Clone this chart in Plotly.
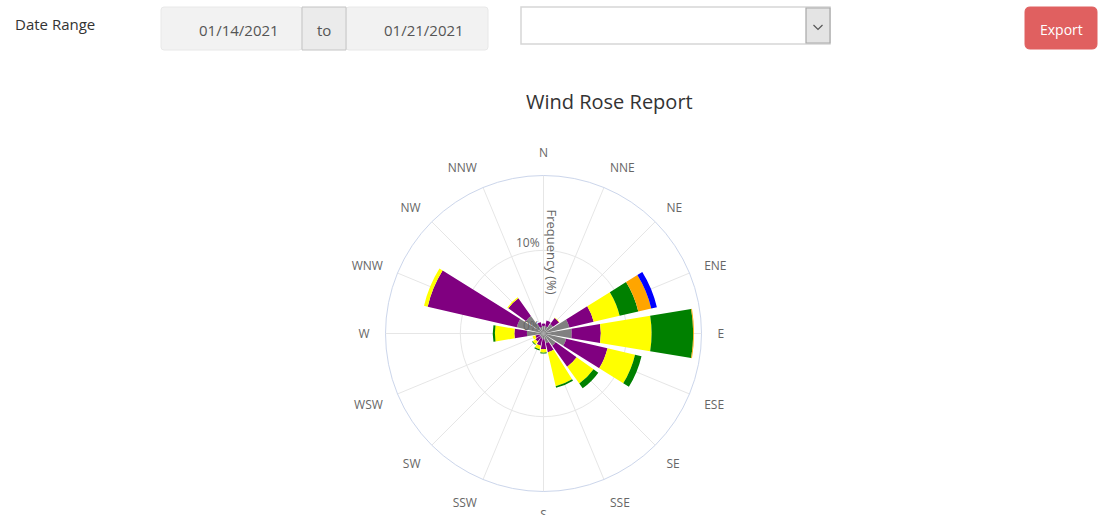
import plotly.graph_objects as go

W, H = 1102, 515

# ---------------- data ----------------
directions = ["N", "NNE", "NE", "ENE", "E", "ESE", "SE", "SSE",
              "S", "SSW", "SW", "WSW", "W", "WNW", "NW", "NNW"]
series_names = ["< 0.5 m/s", "0.5-2 m/s", "2-4 m/s", "4-6 m/s", "6-8 m/s", "> 8 m/s"]
series_colors = ["#808080", "#800080", "#ffff00", "#008000", "#ffa500", "#0000ff"]
gray_vals   = [0.9, 0.9, 1.4, 3.2, 3.4, 2.8, 1.8, 1.2, 0.7, 0.6, 0.5, 0.5, 2.0, 3.3, 2.6, 0.8]
purple_vals = [0.3, 0.7, 0.9, 3.0, 3.5, 5.1, 3.1, 1.1, 1.2, 0.9, 0.7, 0.5, 1.5, 11.0, 2.6, 0.6]
yellow_vals = [0.0, 0.0, 0.05, 3.2, 6.1, 3.4, 2.5, 4.2, 0.4, 0.45, 0.4, 0.35, 2.35, 0.45, 0.15, 0.0]
green_vals  = [0.0, 0.0, 0.0, 2.3, 5.0, 0.8, 0.7, 0.2, 0.1, 0.15, 0.1, 0.0, 0.25, 0.0, 0.0, 0.0]
orange_vals = [0.0, 0.0, 0.0, 1.6, 0.1, 0.0, 0.0, 0.0, 0.0, 0.0, 0.0, 0.0, 0.0, 0.0, 0.0, 0.0]
blue_vals   = [0.0, 0.0, 0.0, 0.7, 0.0, 0.0, 0.0, 0.0, 0.0, 0.0, 0.0, 0.0, 0.0, 0.0, 0.0, 0.0]
all_series = [gray_vals, purple_vals, yellow_vals, green_vals, orange_vals, blue_vals]

radial_ticks = [0, 10]
radial_ticktext = ["0%", "10%"]
radial_max = 19

title_text = "Wind Rose Report"
axis_title = "Frequency (%)"
date_from, date_to = "01/14/2021", "01/21/2021"

FONT = "Open Sans"

# ---------------- helpers (pixel -> paper) ----------------
def px(x):
    return x / W

def py(y):
    return 1 - y / H

def rrect(x0, y0, x1, y1, r, fill, line, lw=1):
    a, b, c, d = px(x0), px(x1), py(y0), py(y1)
    rx, ry = r / W, r / H
    path = (f"M {a+rx},{c} L {b-rx},{c} Q {b},{c} {b},{c-ry} "
            f"L {b},{d+ry} Q {b},{d} {b-rx},{d} L {a+rx},{d} Q {a},{d} {a},{d+ry} "
            f"L {a},{c-ry} Q {a},{c} {a+rx},{c} Z")
    return dict(type="path", xref="paper", yref="paper", path=path,
                fillcolor=fill, line=dict(color=line, width=lw), layer="below")

def rect(x0, y0, x1, y1, fill, line, lw=1):
    return dict(type="rect", xref="paper", yref="paper",
                x0=px(x0), x1=px(x1), y0=py(y1), y1=py(y0),
                fillcolor=fill, line=dict(color=line, width=lw), layer="below")

def label(x, y, text, size=14, color="#333333", xanchor="center", angle=0):
    return dict(x=px(x), y=py(y), xref="paper", yref="paper", text=text,
                showarrow=False, xanchor=xanchor, yanchor="middle", textangle=angle,
                font=dict(family=FONT, size=size, color=color))

# ---------------- figure ----------------
fig = go.Figure()
for name, color, vals in zip(series_names, series_colors, all_series):
    fig.add_trace(go.Barpolar(
        r=vals, theta=directions, name=name, width=0.84,
        marker=dict(color=color, line=dict(width=0)),
        hoverinfo="skip",
    ))

cx, cy, R = 543.5, 333.5, 158
tick_px = [cy - R * t / radial_max for t in radial_ticks]

shapes = [
    rrect(161, 7, 302, 50, 3, "#f2f2f2", "#e8e8e8"),
    rrect(346, 7, 488, 50, 3, "#f2f2f2", "#e8e8e8"),
    rect(302, 7, 346, 50, "#ebebeb", "#c4c4c4"),
    rect(521, 7, 830, 44, "#ffffff", "#d6d6d6", 1.5),
    rect(806, 8, 830, 43, "#e4e4e4", "#a8a8a8", 1.2),
    dict(type="path", xref="paper", yref="paper",
         path=f"M {px(813.5)},{py(25)} L {px(818)},{py(29.5)} L {px(822.5)},{py(25)}",
         line=dict(color="#555555", width=1.2)),
    rrect(1025, 7, 1097, 49, 5, "#e06060", "#e06060"),
]

annotations = [
    label(13, 24, "Date Range", 15, "#333333", "left"),
    label(238.5, 30, date_from, 15, "#555555"),
    label(324, 30, "to", 15, "#555555"),
    label(424, 30, date_to, 15, "#555555"),
    label(1061, 29, "Export", 14, "#ffffff"),
    label(609.5, 101, title_text, 20, "#333333"),
    label(551.5, 252, axis_title, 13, "#666666", "center", 90),
]
for t_px, t_txt in zip(tick_px, radial_ticktext):
    annotations.append(label(542, t_px - 8, t_txt, 12, "#666666", "right"))

fig.update_layout(
    width=W, height=H,
    margin=dict(l=0, r=0, t=0, b=0),
    paper_bgcolor="white", plot_bgcolor="white",
    showlegend=False,
    font=dict(family=FONT, color="#666666", size=12),
    shapes=shapes,
    annotations=annotations,
    polar=dict(
        domain=dict(x=[px(cx - R), px(cx + R)], y=[py(cy + R), py(cy - R)]),
        bgcolor="white",
        barmode="stack",
        bargap=0,
        angularaxis=dict(
            type="category", categoryarray=directions,
            rotation=90, direction="clockwise",
            showline=True, linecolor="#ccd6eb", linewidth=1,
            gridcolor="#e6e6e6", gridwidth=1,
            ticks="outside", ticklen=13, tickcolor="rgba(0,0,0,0)",
            tickfont=dict(family=FONT, size=12, color="#666666"),
        ),
        radialaxis=dict(
            range=[0, radial_max], angle=90,
            tickvals=radial_ticks,
            showline=False, ticks="", showticklabels=False,
            gridcolor="#e6e6e6", gridwidth=1,
        ),
    ),
)

fig.write_html("out.html", config={"displayModeBar": False},
               post_script="document.body.style.margin='0';document.body.style.overflow='hidden';")
